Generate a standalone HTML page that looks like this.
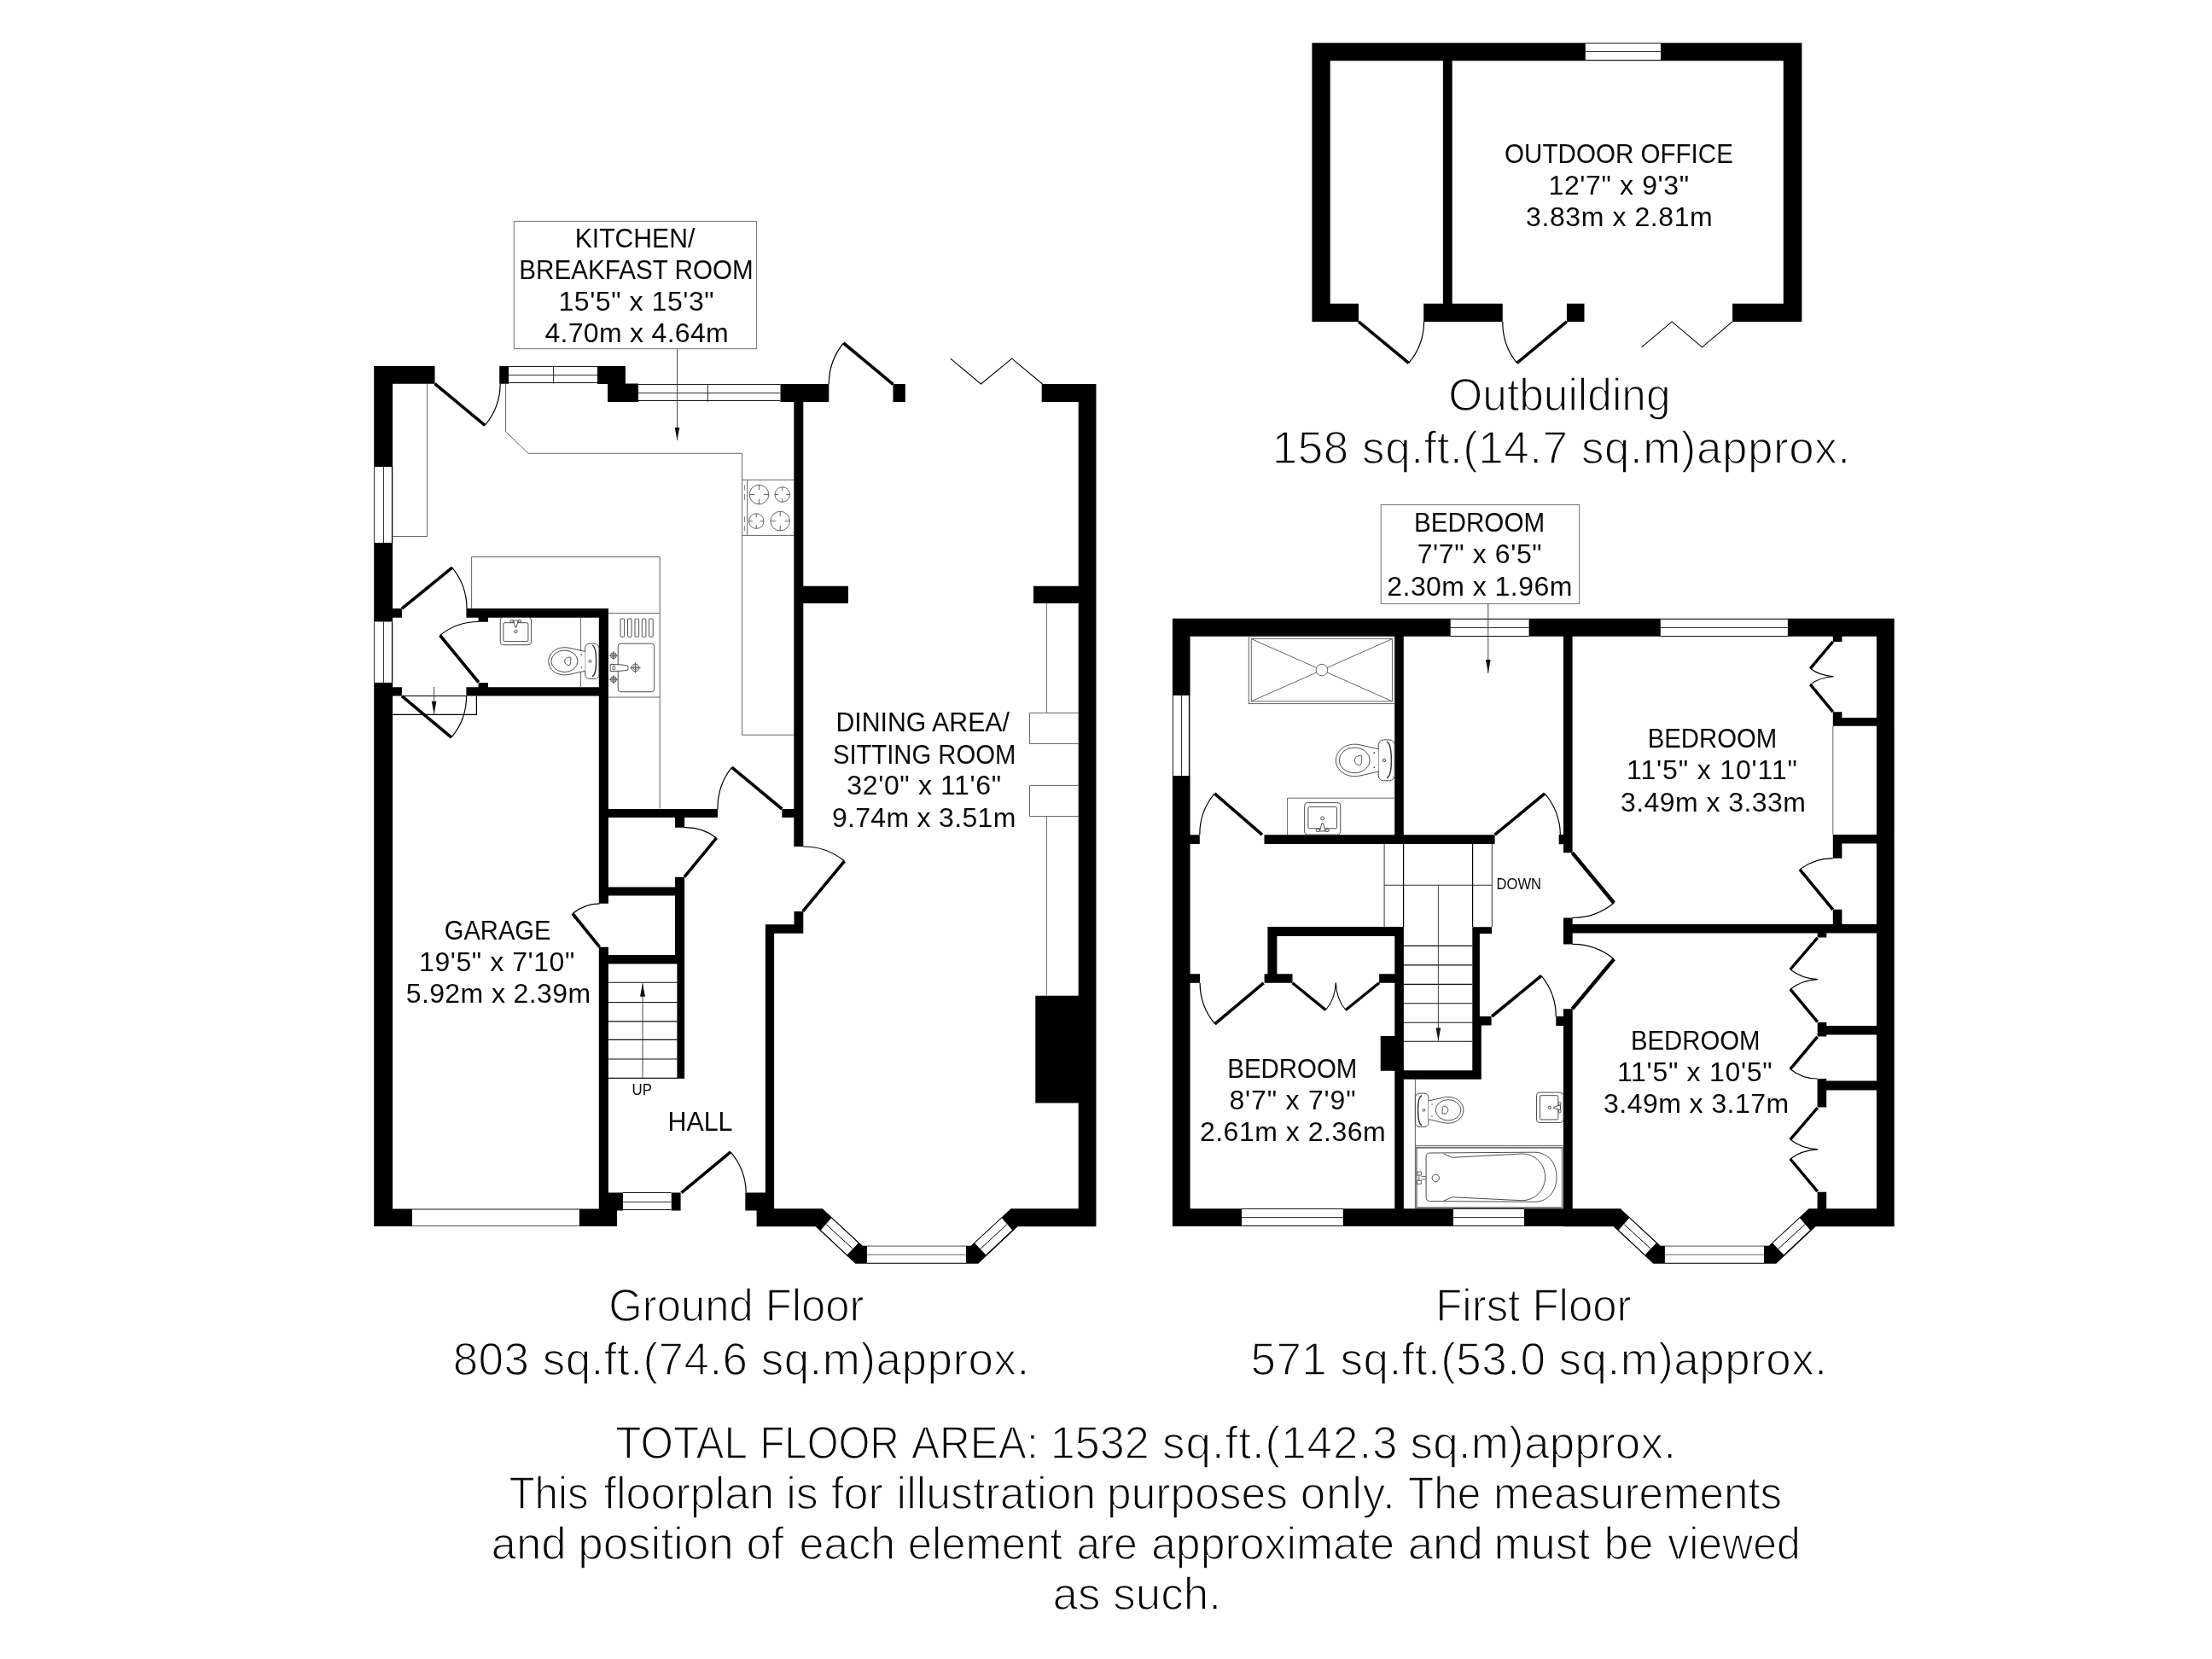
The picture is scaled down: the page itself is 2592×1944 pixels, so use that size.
<!DOCTYPE html>
<html><head><meta charset="utf-8"><title>Floorplan</title>
<style>
html,body{margin:0;padding:0;background:#fff;}
svg{display:block;}
text{font-family:"Liberation Sans",sans-serif;fill:#0a0a0a;}
text.b{fill:#0a0a0a;stroke:#fff;stroke-width:1.4px;paint-order:fill stroke;}
</style></head><body>
<svg width="2592" height="1944" viewBox="0 0 2592 1944">
<rect width="2592" height="1944" fill="#fff"/>
<path fill="#000" d="M438.20,429.00 L460.10,429.00 L460.10,1437.10 L438.20,1437.10Z M438.30,429.00 L509.50,429.00 L509.50,449.80 L438.30,449.80Z M585.20,429.00 L596.00,429.00 L596.00,449.80 L585.20,449.80Z M700.00,429.00 L732.90,429.00 L732.90,450.00 L700.00,450.00Z M712.00,449.50 L748.00,449.50 L748.00,470.90 L712.00,470.90Z M914.30,450.00 L971.30,450.00 L971.30,470.90 L914.30,470.90Z M1046.50,450.00 L1060.80,450.00 L1060.80,470.90 L1046.50,470.90Z M1220.70,450.00 L1284.50,450.00 L1284.50,470.90 L1220.70,470.90Z M1263.70,450.30 L1284.50,450.30 L1284.50,1437.10 L1263.70,1437.10Z M930.30,470.70 L941.30,470.70 L941.30,992.00 L930.30,992.00Z M930.50,1067.90 L941.30,1067.90 L941.30,1093.80 L930.50,1093.80Z M896.90,1083.20 L941.30,1083.20 L941.30,1093.80 L896.90,1093.80Z M896.90,1083.20 L907.10,1083.20 L907.10,1418.40 L896.90,1418.40Z M941.30,686.70 L994.00,686.70 L994.00,707.10 L941.30,707.10Z M1211.00,686.70 L1263.70,686.70 L1263.70,707.10 L1211.00,707.10Z M1213.30,1166.70 L1263.90,1166.70 L1263.90,1292.40 L1213.30,1292.40Z M459.60,713.10 L470.90,713.10 L470.90,723.70 L459.60,723.70Z M459.60,805.20 L470.90,805.20 L470.90,815.60 L459.60,815.60Z M546.40,712.90 L712.90,712.90 L712.90,723.70 L546.40,723.70Z M701.80,712.90 L712.90,712.90 L712.90,1058.80 L701.80,1058.80Z M701.80,1109.70 L712.90,1109.70 L712.90,1418.40 L701.80,1418.40Z M546.40,805.20 L702.10,805.20 L702.10,815.60 L546.40,815.60Z M560.60,723.40 L571.90,723.40 L571.90,728.80 L560.60,728.80Z M560.60,799.90 L571.90,799.90 L571.90,805.30 L560.60,805.30Z M702.10,948.00 L841.00,948.00 L841.00,958.00 L702.10,958.00Z M916.40,948.00 L930.50,948.00 L930.50,958.00 L916.40,958.00Z M791.00,958.00 L802.10,958.00 L802.10,969.70 L791.00,969.70Z M791.00,1027.70 L802.10,1027.70 L802.10,1129.60 L791.00,1129.60Z M793.40,1129.00 L802.10,1129.00 L802.10,1263.90 L793.40,1263.90Z M712.40,1039.40 L791.00,1039.40 L791.00,1049.40 L712.40,1049.40Z M712.40,1119.00 L791.00,1119.00 L791.00,1129.50 L712.40,1129.50Z M438.30,1416.50 L482.90,1416.50 L482.90,1437.10 L438.30,1437.10Z M678.90,1416.50 L723.00,1416.50 L723.00,1437.10 L678.90,1437.10Z M712.40,1397.60 L730.00,1397.60 L730.00,1418.40 L712.40,1418.40Z M786.50,1397.60 L797.60,1397.60 L797.60,1418.40 L786.50,1418.40Z M873.30,1397.60 L907.10,1397.60 L907.10,1418.40 L873.30,1418.40Z M886.60,1416.50 L964.00,1416.50 L964.00,1437.10 L886.60,1437.10Z M886.60,1416.20 L963.80,1416.20 L1010.80,1459.80 L1137.70,1459.80 L1184.50,1416.20 L1284.50,1416.20 L1284.50,1437.20 L1192.70,1437.20 L1146.30,1480.80 L1002.30,1480.80 L955.60,1437.20 L886.60,1437.20Z M1373.90,724.80 L2219.70,724.80 L2219.70,745.80 L1373.90,745.80Z M1373.90,724.80 L1394.60,724.80 L1394.60,1437.10 L1373.90,1437.10Z M2198.90,724.80 L2219.70,724.80 L2219.70,1437.00 L2198.90,1437.00Z M1373.90,1416.20 L1899.50,1416.20 L1899.50,1437.10 L1373.90,1437.10Z M1832.00,1416.20 L1898.80,1416.20 L1945.80,1459.80 L2072.70,1459.80 L2119.50,1416.20 L2219.50,1416.20 L2219.50,1437.20 L2127.70,1437.20 L2081.30,1480.80 L1937.30,1480.80 L1890.60,1437.20 L1832.00,1437.20Z M1634.20,745.80 L1644.80,745.80 L1644.80,988.90 L1634.20,988.90Z M1832.00,745.80 L1842.60,745.80 L1842.60,999.30 L1832.00,999.30Z M1826.70,978.00 L1832.20,978.00 L1832.20,989.20 L1826.70,989.20Z M1481.50,978.20 L1751.60,978.20 L1751.60,988.90 L1481.50,988.90Z M1394.60,978.20 L1405.80,978.20 L1405.80,988.90 L1394.60,988.90Z M1394.60,1141.20 L1406.10,1141.20 L1406.10,1151.80 L1394.60,1151.80Z M1485.40,1086.00 L1644.60,1086.00 L1644.60,1097.00 L1485.40,1097.00Z M1485.40,1086.00 L1496.40,1086.00 L1496.40,1151.80 L1485.40,1151.80Z M1481.60,1141.20 L1514.50,1141.20 L1514.50,1151.80 L1481.60,1151.80Z M1616.10,1141.20 L1635.20,1141.20 L1635.20,1151.80 L1616.10,1151.80Z M1634.30,1086.00 L1644.90,1086.00 L1644.90,1416.20 L1634.30,1416.20Z M1617.70,1213.90 L1635.20,1213.90 L1635.20,1254.70 L1617.70,1254.70Z M1644.60,1254.20 L1735.80,1254.20 L1735.80,1264.70 L1644.60,1264.70Z M1725.30,1086.20 L1733.90,1086.20 L1733.90,1192.00 L1725.30,1192.00Z M1725.30,1191.00 L1735.80,1191.00 L1735.80,1264.70 L1725.30,1264.70Z M1725.30,1086.20 L1748.10,1086.20 L1748.10,1094.00 L1725.30,1094.00Z M1733.90,1190.90 L1747.60,1190.90 L1747.60,1201.60 L1733.90,1201.60Z M1823.30,1191.00 L1832.70,1191.00 L1832.70,1202.00 L1823.30,1202.00Z M1832.00,1182.30 L1842.70,1182.30 L1842.70,1416.70 L1832.00,1416.70Z M1832.00,1075.40 L1842.70,1075.40 L1842.70,1106.40 L1832.00,1106.40Z M1832.20,1082.90 L2199.20,1082.90 L2199.20,1093.40 L1832.20,1093.40Z M2147.80,745.70 L2158.40,745.70 L2158.40,751.90 L2147.80,751.90Z M2147.80,834.20 L2158.40,834.20 L2158.40,850.80 L2147.80,850.80Z M2147.80,840.90 L2198.90,840.90 L2198.90,850.80 L2147.80,850.80Z M2147.80,978.10 L2198.90,978.10 L2198.90,988.50 L2147.80,988.50Z M2147.80,978.10 L2158.40,978.10 L2158.40,1005.80 L2147.80,1005.80Z M2147.80,1065.80 L2158.40,1065.80 L2158.40,1082.90 L2147.80,1082.90Z M2129.70,1093.40 L2140.30,1093.40 L2140.30,1098.50 L2129.70,1098.50Z M2129.70,1197.90 L2140.30,1197.90 L2140.30,1214.60 L2129.70,1214.60Z M2129.70,1201.90 L2199.20,1201.90 L2199.20,1212.50 L2129.70,1212.50Z M2129.60,1266.50 L2199.20,1266.50 L2199.20,1277.40 L2129.60,1277.40Z M2129.60,1264.00 L2140.20,1264.00 L2140.20,1297.40 L2129.60,1297.40Z M2129.60,1396.70 L2140.20,1396.70 L2140.20,1416.70 L2129.60,1416.70Z M1537.40,50.20 L2111.40,50.20 L2111.40,71.20 L1537.40,71.20Z M1537.40,50.20 L1558.70,50.20 L1558.70,376.90 L1537.40,376.90Z M2089.80,50.20 L2111.40,50.20 L2111.40,376.90 L2089.80,376.90Z M1690.90,71.20 L1701.70,71.20 L1701.70,356.00 L1690.90,356.00Z M1537.40,355.80 L1592.00,355.80 L1592.00,376.90 L1537.40,376.90Z M1668.20,355.80 L1760.80,355.80 L1760.80,376.90 L1668.20,376.90Z M1835.90,355.80 L1856.50,355.80 L1856.50,376.90 L1835.90,376.90Z M2030.10,355.80 L2111.40,355.80 L2111.40,376.90 L2030.10,376.90Z"/>
<rect x="596.0" y="429.0" width="104.0" height="20.5" fill="#fff"/>
<polyline points="596.0,429.5 700.0,429.5" fill="none" stroke="#222" stroke-width="1" />
<polyline points="596.0,439.5 700.0,439.5" fill="none" stroke="#333" stroke-width="1" />
<polyline points="596.0,448.5 700.0,448.5" fill="none" stroke="#111" stroke-width="1.1" />
<polyline points="648.6,429.0 648.6,449.5" fill="none" stroke="#222" stroke-width="1" />
<rect x="748.0" y="450.3" width="166.3" height="20.4" fill="#fff"/>
<polyline points="748.0,450.5 914.3,450.5" fill="none" stroke="#222" stroke-width="1" />
<polyline points="748.0,460.5 914.3,460.5" fill="none" stroke="#333" stroke-width="1" />
<polyline points="748.0,469.5 914.3,469.5" fill="none" stroke="#111" stroke-width="1.1" />
<polyline points="829.3,450.3 829.3,470.7" fill="none" stroke="#222" stroke-width="1" />
<rect x="438.2" y="547.0" width="21.9" height="89.0" fill="#fff"/>
<polyline points="438.5,547.0 438.5,636.0" fill="none" stroke="#333" stroke-width="1" />
<polyline points="449.5,547.0 449.5,636.0" fill="none" stroke="#333" stroke-width="1" />
<polyline points="459.5,547.0 459.5,636.0" fill="none" stroke="#000" stroke-width="1.2" />
<rect x="438.2" y="728.5" width="21.9" height="71.4" fill="#fff"/>
<polyline points="438.5,728.5 438.5,799.9" fill="none" stroke="#333" stroke-width="1" />
<polyline points="449.5,728.5 449.5,799.9" fill="none" stroke="#333" stroke-width="1" />
<polyline points="459.5,728.5 459.5,799.9" fill="none" stroke="#000" stroke-width="1.2" />
<polyline points="482.9,1417.0 678.9,1417.0" fill="none" stroke="#111" stroke-width="1.2" />
<polyline points="482.9,1436.5 678.9,1436.5" fill="none" stroke="#555" stroke-width="1.1" />
<rect x="730.0" y="1397.6" width="56.5" height="20.8" fill="#fff"/>
<polyline points="730.0,1397.5 786.5,1397.5" fill="none" stroke="#222" stroke-width="1" />
<polyline points="730.0,1408.5 786.5,1408.5" fill="none" stroke="#333" stroke-width="1" />
<polyline points="730.0,1417.5 786.5,1417.5" fill="none" stroke="#111" stroke-width="1.1" />
<rect x="1015.9" y="1459.8" width="116.1" height="21.0" fill="#fff"/>
<polyline points="1015.9,1460.3 1132.0,1460.3" fill="none" stroke="#777" stroke-width="1.1" />
<polyline points="1015.9,1470.2 1132.0,1470.2" fill="none" stroke="#666" stroke-width="1.1" />
<polyline points="1015.9,1480.3 1132.0,1480.3" fill="none" stroke="#000" stroke-width="1.1" />
<polygon points="974.4,1427.1 961.7,1441.5 992.5,1470.6 1005.9,1456.4" fill="#fff" stroke="none" stroke-width="0"/>
<polyline points="974.4,1427.1 1005.9,1456.4" fill="none" stroke="#000" stroke-width="1.0" />
<polyline points="961.7,1441.5 992.5,1470.6" fill="none" stroke="#000" stroke-width="1.0" />
<polyline points="968.3,1434.8 999.2,1463.2" fill="none" stroke="#000" stroke-width="1.0" />
<polygon points="1173.7,1427.1 1186.3,1441.5 1155.4,1470.6 1142.0,1456.4" fill="#fff" stroke="none" stroke-width="0"/>
<polyline points="1173.7,1427.1 1142.0,1456.4" fill="none" stroke="#000" stroke-width="1.0" />
<polyline points="1186.3,1441.5 1155.4,1470.6" fill="none" stroke="#000" stroke-width="1.0" />
<polyline points="1179.9,1434.8 1149.0,1463.2" fill="none" stroke="#000" stroke-width="1.0" />
<path d="M568.2,498.4 A76.3,76.3 0 0 0 586.2,449.7" fill="none" stroke="#000" stroke-width="1.2"/>
<line x1="509.5" y1="449.7" x2="568.2" y2="498.4" stroke="#000" stroke-width="3.6" stroke-linecap="butt"/>
<path d="M988.4,402.0 A75.6,75.6 0 0 0 971.3,450.3" fill="none" stroke="#000" stroke-width="1.2"/>
<line x1="1046.5" y1="450.3" x2="988.4" y2="402.0" stroke="#000" stroke-width="3.6" stroke-linecap="butt"/>
<polyline points="1113.7,420.2 1149.5,450.0 1185.7,420.2 1221.5,450.0" fill="none" stroke="#000" stroke-width="1.1" />
<path d="M529.9,665.2 A76.0,76.0 0 0 1 547.0,713.1" fill="none" stroke="#000" stroke-width="1.2"/>
<line x1="470.9" y1="713.1" x2="529.9" y2="665.2" stroke="#000" stroke-width="3.6" stroke-linecap="butt"/>
<path d="M515.6,744.5 A71.2,71.2 0 0 1 560.8,728.5" fill="none" stroke="#000" stroke-width="1.2"/>
<line x1="560.8" y1="799.5" x2="515.6" y2="744.5" stroke="#000" stroke-width="3.6" stroke-linecap="butt"/>
<path d="M529.0,864.2 A75.7,75.7 0 0 0 546.6,815.6" fill="none" stroke="#000" stroke-width="1.2"/>
<line x1="470.9" y1="815.6" x2="529.0" y2="864.2" stroke="#000" stroke-width="3.6" stroke-linecap="butt"/>
<path d="M857.5,899.2 A76.5,76.5 0 0 0 841.0,948.0" fill="none" stroke="#000" stroke-width="1.2"/>
<line x1="916.4" y1="948.0" x2="857.5" y2="899.2" stroke="#000" stroke-width="3.6" stroke-linecap="butt"/>
<path d="M839.6,981.9 A59.3,59.3 0 0 0 801.9,969.7" fill="none" stroke="#000" stroke-width="1.2"/>
<line x1="801.9" y1="1027.7" x2="839.6" y2="981.9" stroke="#000" stroke-width="3.6" stroke-linecap="butt"/>
<path d="M989.6,1009.0 A76.5,76.5 0 0 0 940.8,992.0" fill="none" stroke="#000" stroke-width="1.2"/>
<line x1="940.8" y1="1067.9" x2="989.6" y2="1009.0" stroke="#000" stroke-width="3.6" stroke-linecap="butt"/>
<path d="M670.9,1070.5 A50.4,50.4 0 0 1 702.6,1058.8" fill="none" stroke="#000" stroke-width="1.2"/>
<line x1="702.6" y1="1109.7" x2="670.9" y2="1070.5" stroke="#000" stroke-width="3.6" stroke-linecap="butt"/>
<path d="M856.1,1349.9 A74.8,74.8 0 0 1 874.2,1397.6" fill="none" stroke="#000" stroke-width="1.2"/>
<line x1="798.5" y1="1397.6" x2="856.1" y2="1349.9" stroke="#000" stroke-width="3.6" stroke-linecap="butt"/>
<polyline points="460.0,837.4 558.4,837.4 558.4,815.6" fill="none" stroke="#000" stroke-width="1.2" />
<polyline points="470.9,815.5 546.4,815.5" fill="none" stroke="#000" stroke-width="1.1" />
<polyline points="508.6,804.9 508.6,836.8" fill="none" stroke="#333" stroke-width="0.9" />
<polygon points="508.6,836.8 505.8,821.8 511.4,821.8" fill="#111" stroke="none" stroke-width="0"/>
<polyline points="500.6,449.5 500.6,628.5 459.6,628.5" fill="none" stroke="#555" stroke-width="0.9" />
<polyline points="592.6,449.5 592.6,505.8 619.0,531.3 869.6,531.3 869.6,861.2 930.3,861.2" fill="none" stroke="#555" stroke-width="0.9" />
<polyline points="930.3,562.3 869.5,562.3" fill="none" stroke="#555" stroke-width="0.9" />
<polyline points="869.5,627.4 930.3,627.4" fill="none" stroke="#555" stroke-width="0.9" />
<polyline points="875.7,562.6 875.7,627.3" fill="none" stroke="#555" stroke-width="0.9" />
<polyline points="552.6,713.1 552.6,652.6 773.2,652.6 773.2,947.5" fill="none" stroke="#555" stroke-width="0.9" />
<polyline points="712.4,718.5 773.2,718.5" fill="none" stroke="#555" stroke-width="0.9" />
<polyline points="712.4,817.0 773.2,817.0" fill="none" stroke="#555" stroke-width="0.9" />
<polyline points="680.4,723.4 680.4,805.3" fill="none" stroke="#555" stroke-width="0.9" />
<circle cx="889.5" cy="579.5" r="11.3" fill="none" stroke="#555" stroke-width="0.9"/>
<polyline points="878.2,579.5 884.2,579.5" fill="none" stroke="#555" stroke-width="0.9" />
<polyline points="894.8,579.5 900.8,579.5" fill="none" stroke="#555" stroke-width="0.9" />
<polyline points="889.5,568.2 889.5,574.2" fill="none" stroke="#555" stroke-width="0.9" />
<polyline points="889.5,584.8 889.5,590.8" fill="none" stroke="#555" stroke-width="0.9" />
<circle cx="916.8" cy="579.5" r="8.8" fill="none" stroke="#555" stroke-width="0.9"/>
<polyline points="908.0,579.5 912.3,579.5" fill="none" stroke="#555" stroke-width="0.9" />
<polyline points="921.3,579.5 925.6,579.5" fill="none" stroke="#555" stroke-width="0.9" />
<polyline points="916.8,570.7 916.8,575.0" fill="none" stroke="#555" stroke-width="0.9" />
<polyline points="916.8,584.0 916.8,588.3" fill="none" stroke="#555" stroke-width="0.9" />
<circle cx="886.3" cy="610.6" r="8.8" fill="none" stroke="#555" stroke-width="0.9"/>
<polyline points="877.5,610.6 881.8,610.6" fill="none" stroke="#555" stroke-width="0.9" />
<polyline points="890.8,610.6 895.1,610.6" fill="none" stroke="#555" stroke-width="0.9" />
<polyline points="886.3,601.8 886.3,606.1" fill="none" stroke="#555" stroke-width="0.9" />
<polyline points="886.3,615.1 886.3,619.4" fill="none" stroke="#555" stroke-width="0.9" />
<circle cx="914.2" cy="610.6" r="11.3" fill="none" stroke="#555" stroke-width="0.9"/>
<polyline points="902.9,610.6 908.9,610.6" fill="none" stroke="#555" stroke-width="0.9" />
<polyline points="919.5,610.6 925.5,610.6" fill="none" stroke="#555" stroke-width="0.9" />
<polyline points="914.2,599.3 914.2,605.3" fill="none" stroke="#555" stroke-width="0.9" />
<polyline points="914.2,615.9 914.2,621.9" fill="none" stroke="#555" stroke-width="0.9" />
<polyline points="872.4,568.5 872.4,574.5" fill="none" stroke="#555" stroke-width="0.8" />
<polyline points="872.4,579.1 872.4,585.8" fill="none" stroke="#555" stroke-width="0.8" />
<polyline points="872.4,605.3 872.4,612.0" fill="none" stroke="#555" stroke-width="0.8" />
<polyline points="872.4,616.3 872.4,622.2" fill="none" stroke="#555" stroke-width="0.8" />
<polyline points="1226.4,707.1 1226.4,835.4" fill="none" stroke="#555" stroke-width="0.9" />
<polyline points="1226.4,956.5 1226.4,1166.7" fill="none" stroke="#555" stroke-width="0.9" />
<polyline points="1263.8,835.4 1206.5,835.4 1206.5,871.5 1263.8,871.5" fill="none" stroke="#555" stroke-width="0.9" />
<polyline points="1263.8,920.4 1206.5,920.4 1206.5,956.5 1263.8,956.5" fill="none" stroke="#555" stroke-width="0.9" />
<polyline points="712.4,1151.2 793.6,1151.2" fill="none" stroke="#111" stroke-width="1.15" />
<polyline points="712.4,1174.5 793.6,1174.5" fill="none" stroke="#111" stroke-width="1.15" />
<polyline points="712.4,1196.8 793.6,1196.8" fill="none" stroke="#111" stroke-width="1.15" />
<polyline points="712.4,1218.4 793.6,1218.4" fill="none" stroke="#111" stroke-width="1.15" />
<polyline points="712.4,1241.0 793.6,1241.0" fill="none" stroke="#111" stroke-width="1.15" />
<polyline points="712.4,1263.4 802.1,1263.4" fill="none" stroke="#111" stroke-width="1.15" />
<polyline points="753.0,1263.4 753.0,1152.2" fill="none" stroke="#333" stroke-width="0.9" />
<polygon points="753.0,1152.2 750.0,1167.7 756.0,1167.7" fill="#111" stroke="none" stroke-width="0"/>
<rect x="602.3" y="259.3" width="284.1" height="149.4" rx="0" fill="none" stroke="#666" stroke-width="0.9"/>
<polyline points="793.5,408.8 793.5,515.9" fill="none" stroke="#333" stroke-width="0.9" />
<polygon points="793.5,515.9 790.7,500.9 796.3,500.9" fill="#111" stroke="none" stroke-width="0"/>
<rect x="1699.7" y="724.8" width="91.9" height="21.0" fill="#fff"/>
<polyline points="1699.7,725.5 1791.6,725.5" fill="none" stroke="#222" stroke-width="1" />
<polyline points="1699.7,735.5 1791.6,735.5" fill="none" stroke="#333" stroke-width="1" />
<polyline points="1699.7,745.5 1791.6,745.5" fill="none" stroke="#111" stroke-width="1.1" />
<rect x="1945.8" y="724.8" width="149.1" height="21.0" fill="#fff"/>
<polyline points="1945.8,725.5 2094.9,725.5" fill="none" stroke="#222" stroke-width="1" />
<polyline points="1945.8,735.5 2094.9,735.5" fill="none" stroke="#333" stroke-width="1" />
<polyline points="1945.8,745.5 2094.9,745.5" fill="none" stroke="#111" stroke-width="1.1" />
<rect x="1373.9" y="814.9" width="20.7" height="94.2" fill="#fff"/>
<polyline points="1374.5,814.9 1374.5,909.1" fill="none" stroke="#333" stroke-width="1" />
<polyline points="1384.5,814.9 1384.5,909.1" fill="none" stroke="#333" stroke-width="1" />
<polyline points="1393.5,814.9 1393.5,909.1" fill="none" stroke="#000" stroke-width="1.2" />
<rect x="1455.0" y="1416.2" width="118.8" height="20.9" fill="#fff"/>
<polyline points="1455.0,1416.5 1573.8,1416.5" fill="none" stroke="#222" stroke-width="1" />
<polyline points="1455.0,1426.5 1573.8,1426.5" fill="none" stroke="#333" stroke-width="1" />
<polyline points="1455.0,1436.5 1573.8,1436.5" fill="none" stroke="#111" stroke-width="1.1" />
<rect x="1703.0" y="1416.2" width="83.0" height="20.9" fill="#fff"/>
<polyline points="1703.0,1416.5 1786.0,1416.5" fill="none" stroke="#222" stroke-width="1" />
<polyline points="1703.0,1426.5 1786.0,1426.5" fill="none" stroke="#333" stroke-width="1" />
<polyline points="1703.0,1436.5 1786.0,1436.5" fill="none" stroke="#111" stroke-width="1.1" />
<rect x="1950.9" y="1459.8" width="116.1" height="21.0" fill="#fff"/>
<polyline points="1950.9,1460.3 2067.0,1460.3" fill="none" stroke="#777" stroke-width="1.1" />
<polyline points="1950.9,1470.2 2067.0,1470.2" fill="none" stroke="#666" stroke-width="1.1" />
<polyline points="1950.9,1480.3 2067.0,1480.3" fill="none" stroke="#000" stroke-width="1.1" />
<polygon points="1909.4,1427.1 1896.7,1441.5 1927.5,1470.6 1940.9,1456.4" fill="#fff" stroke="none" stroke-width="0"/>
<polyline points="1909.4,1427.1 1940.9,1456.4" fill="none" stroke="#000" stroke-width="1.0" />
<polyline points="1896.7,1441.5 1927.5,1470.6" fill="none" stroke="#000" stroke-width="1.0" />
<polyline points="1903.3,1434.8 1934.2,1463.2" fill="none" stroke="#000" stroke-width="1.0" />
<polygon points="2108.7,1427.1 2121.3,1441.5 2090.4,1470.6 2077.0,1456.4" fill="#fff" stroke="none" stroke-width="0"/>
<polyline points="2108.7,1427.1 2077.0,1456.4" fill="none" stroke="#000" stroke-width="1.0" />
<polyline points="2121.3,1441.5 2090.4,1470.6" fill="none" stroke="#000" stroke-width="1.0" />
<polyline points="2114.9,1434.8 2084.0,1463.2" fill="none" stroke="#000" stroke-width="1.0" />
<polyline points="2147.8,850.8 2147.8,978.1" fill="none" stroke="#555" stroke-width="0.9" />
<path d="M1423.3,929.9 A73.7,73.7 0 0 0 1405.8,978.2" fill="none" stroke="#000" stroke-width="1.2"/>
<line x1="1479.0" y1="978.2" x2="1423.3" y2="929.9" stroke="#000" stroke-width="3.6" stroke-linecap="butt"/>
<path d="M1810.1,929.9 A75.9,75.9 0 0 1 1828.4,978.2" fill="none" stroke="#000" stroke-width="1.2"/>
<line x1="1751.6" y1="978.2" x2="1810.1" y2="929.9" stroke="#000" stroke-width="3.6" stroke-linecap="butt"/>
<path d="M1423.6,1199.8 A74.6,74.6 0 0 1 1406.1,1151.8" fill="none" stroke="#000" stroke-width="1.2"/>
<line x1="1480.7" y1="1151.8" x2="1423.6" y2="1199.8" stroke="#000" stroke-width="3.6" stroke-linecap="butt"/>
<path d="M1891.2,1058.0 A76.5,76.5 0 0 1 1842.3,1075.5" fill="none" stroke="#000" stroke-width="1.2"/>
<line x1="1842.3" y1="999.2" x2="1891.2" y2="1058.0" stroke="#000" stroke-width="4.4" stroke-linecap="butt"/>
<path d="M1891.2,1123.8 A76.2,76.2 0 0 0 1842.3,1106.4" fill="none" stroke="#000" stroke-width="1.2"/>
<line x1="1842.3" y1="1182.3" x2="1891.2" y2="1123.8" stroke="#000" stroke-width="4.4" stroke-linecap="butt"/>
<path d="M1806.1,1143.4 A75.0,75.0 0 0 1 1823.3,1191.0" fill="none" stroke="#000" stroke-width="1.2"/>
<line x1="1748.1" y1="1191.0" x2="1806.1" y2="1143.4" stroke="#000" stroke-width="3.6" stroke-linecap="butt"/>
<path d="M2109.0,1018.9 A60.9,60.9 0 0 1 2147.8,1005.8" fill="none" stroke="#000" stroke-width="1.2"/>
<line x1="2147.8" y1="1065.8" x2="2109.0" y2="1018.9" stroke="#000" stroke-width="3.6" stroke-linecap="butt"/>
<path d="M2097.8,1252.8 A49.6,49.6 0 0 0 2129.6,1264.0" fill="none" stroke="#000" stroke-width="1.2"/>
<line x1="2129.6" y1="1214.8" x2="2097.8" y2="1252.8" stroke="#000" stroke-width="3.6" stroke-linecap="butt"/>
<polyline points="2147.8,751.9 2121.3,783.3" fill="none" stroke="#000" stroke-width="3.4" />
<polyline points="2147.8,834.2 2121.3,802.1" fill="none" stroke="#000" stroke-width="3.4" />
<path d="M2121.3,783.3 Q2131.9,791.7 2148.5,792.7 Q2131.9,793.7 2121.3,802.1" fill="none" stroke="#000" stroke-width="1.1"/>
<polyline points="2129.7,1098.8 2097.8,1136.0" fill="none" stroke="#000" stroke-width="3.4" />
<polyline points="2129.7,1197.4 2097.8,1159.2" fill="none" stroke="#000" stroke-width="3.4" />
<path d="M2097.8,1136.0 Q2111.0,1146.6 2130.2,1147.6 Q2111.0,1148.6 2097.8,1159.2" fill="none" stroke="#000" stroke-width="1.1"/>
<polyline points="2129.7,1298.2 2097.8,1335.3" fill="none" stroke="#000" stroke-width="3.4" />
<polyline points="2129.7,1396.2 2097.8,1358.0" fill="none" stroke="#000" stroke-width="3.4" />
<path d="M2097.8,1335.3 Q2111.0,1345.9 2130.2,1346.9 Q2111.0,1347.9 2097.8,1358.0" fill="none" stroke="#000" stroke-width="1.1"/>
<polyline points="1514.5,1151.8 1553.4,1183.5" fill="none" stroke="#000" stroke-width="3.4" />
<polyline points="1616.1,1151.8 1576.9,1183.5" fill="none" stroke="#000" stroke-width="3.4" />
<path d="M1553.4,1183.5 Q1564.5,1171 1565.3,1151.2 Q1566,1171 1576.9,1183.5" fill="none" stroke="#000" stroke-width="1.1"/>
<polyline points="1622.1,988.9 1622.1,1086.0" fill="none" stroke="#555" stroke-width="1.2" />
<polyline points="1644.6,988.9 1644.6,1086.0" fill="none" stroke="#000" stroke-width="1.2" />
<polyline points="1725.6,988.9 1725.6,1086.0" fill="none" stroke="#000" stroke-width="1.2" />
<polyline points="1748.4,988.9 1748.4,1086.0" fill="none" stroke="#555" stroke-width="1.2" />
<polyline points="1622.1,1037.2 1748.4,1037.2" fill="none" stroke="#333" stroke-width="1.1" />
<polyline points="1644.6,1108.3 1725.2,1108.3" fill="none" stroke="#111" stroke-width="1.15" />
<polyline points="1644.6,1130.8 1725.2,1130.8" fill="none" stroke="#111" stroke-width="1.15" />
<polyline points="1644.6,1153.4 1725.2,1153.4" fill="none" stroke="#111" stroke-width="1.15" />
<polyline points="1644.6,1175.7 1725.2,1175.7" fill="none" stroke="#111" stroke-width="1.15" />
<polyline points="1644.6,1198.2 1725.2,1198.2" fill="none" stroke="#111" stroke-width="1.15" />
<polyline points="1644.6,1220.2 1725.2,1220.2" fill="none" stroke="#111" stroke-width="1.15" />
<polyline points="1685.4,1037.4 1685.4,1219.6" fill="none" stroke="#333" stroke-width="0.9" />
<polygon points="1685.4,1219.6 1682.6,1204.6 1688.2,1204.6" fill="#111" stroke="none" stroke-width="0"/>
<rect x="1463.3" y="745.8" width="170.9" height="78.8" rx="0" fill="none" stroke="#555" stroke-width="0.9"/>
<rect x="1466.3" y="748.6" width="165.1" height="73.2" rx="0" fill="none" stroke="#555" stroke-width="0.9"/>
<polyline points="1466.3,748.6 1631.4,821.8" fill="none" stroke="#555" stroke-width="0.9" />
<polyline points="1466.3,821.8 1631.4,748.6" fill="none" stroke="#555" stroke-width="0.9" />
<circle cx="1548.9" cy="785.1" r="6.8" fill="#fff" stroke="#555" stroke-width="0.9"/>
<polyline points="1508.6,978.2 1508.6,935.2 1634.2,935.2" fill="none" stroke="#555" stroke-width="0.9" />
<polyline points="1658.4,1264.7 1658.4,1416.2" fill="none" stroke="#555" stroke-width="0.9" />
<rect x="1659.2" y="1344.4" width="172.0" height="71.0" rx="0" fill="none" stroke="#555" stroke-width="0.9"/>
<rect x="1660.3" y="1345.5" width="169.8" height="68.8" rx="0" fill="none" stroke="#555" stroke-width="0.6"/>
<g transform="translate(701.9,774.8) rotate(0) scale(0.86)" fill="none" stroke="#3a3a3a" stroke-width="1.05"><rect x="-18.9" y="-23.95" width="18.9" height="47.9" rx="6" ry="6" fill="#fff"/><path d="M-18.9,-13.2 L-41.5,-18.3 C-57,-21 -68.8,-11.5 -68.8,0 C-68.8,11.5 -57,21 -41.5,18.3 L-18.9,13.2" fill="#fff"/><ellipse cx="-47" cy="0" rx="18" ry="14.8"/><path d="M-38.6,-5.2 C-41,-5.8 -46.8,-5 -46.8,0 C-46.8,4 -43,6 -40.5,5.6 C-38.6,5.3 -38.3,-2 -38.6,-5.2Z"/><circle cx="-12.2" cy="0" r="1.7"/><circle cx="-23.9" cy="-8.7" r="0.9" fill="#3a3a3a" stroke="none"/><circle cx="-23.9" cy="8.4" r="0.9" fill="#3a3a3a" stroke="none"/><path d="M-9.3,-21.7 C-3.5,-20 -4,-5 -3.8,0 C-4,5 -3.5,19 -9.3,20.7" stroke-width="1.74"/></g>
<g transform="translate(604.4,723.4) rotate(0) scale(1.0)" fill="none" stroke="#3a3a3a" stroke-width="0.90"><rect x="-18.15" y="0" width="36.3" height="32.3" rx="3.5" fill="#fff"/><rect x="-14.5" y="6.3" width="29" height="21.9" rx="1.5"/><circle cx="0" cy="16.6" r="1.7"/><ellipse cx="-4.6" cy="4.4" rx="1.9" ry="1.4" fill="#fff"/><ellipse cx="4.6" cy="4.4" rx="1.9" ry="1.4" fill="#fff"/><path d="M-2.9,3.6 L2.9,3.6 L0.6,11.6 L-0.6,11.6 Z" fill="#fff"/></g>
<g transform="translate(1634.2,890.9) rotate(0) scale(1.0)" fill="none" stroke="#3a3a3a" stroke-width="0.90"><rect x="-18.9" y="-23.95" width="18.9" height="47.9" rx="6" ry="6" fill="#fff"/><path d="M-18.9,-13.2 L-41.5,-18.3 C-57,-21 -68.8,-11.5 -68.8,0 C-68.8,11.5 -57,21 -41.5,18.3 L-18.9,13.2" fill="#fff"/><ellipse cx="-47" cy="0" rx="18" ry="14.8"/><path d="M-38.6,-5.2 C-41,-5.8 -46.8,-5 -46.8,0 C-46.8,4 -43,6 -40.5,5.6 C-38.6,5.3 -38.3,-2 -38.6,-5.2Z"/><circle cx="-12.2" cy="0" r="1.7"/><circle cx="-23.9" cy="-8.7" r="0.9" fill="#3a3a3a" stroke="none"/><circle cx="-23.9" cy="8.4" r="0.9" fill="#3a3a3a" stroke="none"/><path d="M-9.3,-21.7 C-3.5,-20 -4,-5 -3.8,0 C-4,5 -3.5,19 -9.3,20.7" stroke-width="1.50"/></g>
<g transform="translate(1549.7,978.1) rotate(180) scale(1.16)" fill="none" stroke="#3a3a3a" stroke-width="0.78"><rect x="-18.15" y="0" width="36.3" height="32.3" rx="3.5" fill="#fff"/><rect x="-14.5" y="6.3" width="29" height="21.9" rx="1.5"/><circle cx="0" cy="16.6" r="1.7"/><ellipse cx="-4.6" cy="4.4" rx="1.9" ry="1.4" fill="#fff"/><ellipse cx="4.6" cy="4.4" rx="1.9" ry="1.4" fill="#fff"/><path d="M-2.9,3.6 L2.9,3.6 L0.6,11.6 L-0.6,11.6 Z" fill="#fff"/></g>
<g transform="translate(1658.4,1300.8) rotate(180) scale(0.822)" fill="none" stroke="#3a3a3a" stroke-width="1.09"><rect x="-18.9" y="-23.95" width="18.9" height="47.9" rx="6" ry="6" fill="#fff"/><path d="M-18.9,-13.2 L-41.5,-18.3 C-57,-21 -68.8,-11.5 -68.8,0 C-68.8,11.5 -57,21 -41.5,18.3 L-18.9,13.2" fill="#fff"/><ellipse cx="-47" cy="0" rx="18" ry="14.8"/><path d="M-38.6,-5.2 C-41,-5.8 -46.8,-5 -46.8,0 C-46.8,4 -43,6 -40.5,5.6 C-38.6,5.3 -38.3,-2 -38.6,-5.2Z"/><circle cx="-12.2" cy="0" r="1.7"/><circle cx="-23.9" cy="-8.7" r="0.9" fill="#3a3a3a" stroke="none"/><circle cx="-23.9" cy="8.4" r="0.9" fill="#3a3a3a" stroke="none"/><path d="M-9.3,-21.7 C-3.5,-20 -4,-5 -3.8,0 C-4,5 -3.5,19 -9.3,20.7" stroke-width="1.82"/></g>
<g transform="translate(1832.0,1297.8) rotate(90) scale(0.975)" fill="none" stroke="#3a3a3a" stroke-width="0.92"><rect x="-18.15" y="0" width="36.3" height="32.3" rx="3.5" fill="#fff"/><rect x="-14.5" y="6.3" width="29" height="21.9" rx="1.5"/><circle cx="0" cy="16.6" r="1.7"/><ellipse cx="-4.6" cy="4.4" rx="1.9" ry="1.4" fill="#fff"/><ellipse cx="4.6" cy="4.4" rx="1.9" ry="1.4" fill="#fff"/><path d="M-2.9,3.6 L2.9,3.6 L0.6,11.6 L-0.6,11.6 Z" fill="#fff"/></g>
<rect x="727.0" y="725.1" width="4.6" height="21.2" rx="0.8" fill="none" stroke="#3a3a3a" stroke-width="0.9"/>
<rect x="735.5" y="725.1" width="4.6" height="21.2" rx="0.8" fill="none" stroke="#3a3a3a" stroke-width="0.9"/>
<rect x="744.0" y="725.1" width="4.6" height="21.2" rx="0.8" fill="none" stroke="#3a3a3a" stroke-width="0.9"/>
<rect x="752.3" y="725.1" width="4.6" height="21.2" rx="0.8" fill="none" stroke="#3a3a3a" stroke-width="0.9"/>
<rect x="760.6" y="725.1" width="4.6" height="21.2" rx="0.8" fill="none" stroke="#3a3a3a" stroke-width="0.9"/>
<rect x="724.2" y="754.1" width="42.5" height="56.6" rx="3.5" fill="none" stroke="#3a3a3a" stroke-width="0.9"/>
<circle cx="718.9" cy="768.2" r="3.4" fill="#fff" stroke="#3a3a3a" stroke-width="0.9"/>
<circle cx="718.9" cy="768.2" r="1.9" fill="none" stroke="#3a3a3a" stroke-width="0.7"/>
<polyline points="713.7,768.2 724.1,768.2" fill="none" stroke="#3a3a3a" stroke-width="0.7" />
<polyline points="718.9,763.0 718.9,773.4" fill="none" stroke="#3a3a3a" stroke-width="0.7" />
<circle cx="718.9" cy="796.2" r="3.4" fill="#fff" stroke="#3a3a3a" stroke-width="0.9"/>
<circle cx="718.9" cy="796.2" r="1.9" fill="none" stroke="#3a3a3a" stroke-width="0.7"/>
<polyline points="713.7,796.2 724.1,796.2" fill="none" stroke="#3a3a3a" stroke-width="0.7" />
<polyline points="718.9,791.0 718.9,801.4" fill="none" stroke="#3a3a3a" stroke-width="0.7" />
<circle cx="744.5" cy="782.4" r="4.4" fill="#fff" stroke="#3a3a3a" stroke-width="0.9"/>
<circle cx="744.5" cy="782.4" r="2.4" fill="none" stroke="#3a3a3a" stroke-width="0.7"/>
<polyline points="738.3,782.4 750.7,782.4" fill="none" stroke="#3a3a3a" stroke-width="0.7" />
<polyline points="744.5,776.2 744.5,788.6" fill="none" stroke="#3a3a3a" stroke-width="0.7" />
<path d="M715.2,778.4 L728,778.9 L735.5,780 Q736.8,782.5 735.5,785.2 L728,786.2 L715.2,786.6 Z" fill="#fff" stroke="#3a3a3a" stroke-width="0.9"/>
<path d="M718,780.3 L720.6,780.3 L720.6,784.6 L718,784.6 Z" fill="none" stroke="#3a3a3a" stroke-width="0.7"/>
<polyline points="1658.4,1342.6 1832.2,1342.6" fill="none" stroke="#555" stroke-width="0.9" />
<path d="M1675.6,1351 L1798,1350.2 C1815,1350.2 1824,1364 1824,1379.3 C1824,1394.5 1815,1408.3 1798,1408.3 L1675.6,1407.5 Q1671.1,1407.5 1671.1,1403 L1671.1,1355.5 Q1671.1,1351 1675.6,1351 Z" fill="none" stroke="#3a3a3a" stroke-width="0.9"/>
<path d="M1691.5,1352 L1701.7,1356.3 L1783,1352 C1800,1352 1810.6,1365 1810.6,1379.4 C1810.6,1393.5 1800,1406.7 1783,1406.7 L1701.7,1402.8 L1691.5,1407.2" fill="none" stroke="#3a3a3a" stroke-width="0.9"/>
<circle cx="1682.3" cy="1380.4" r="4.2" fill="none" stroke="#3a3a3a" stroke-width="0.9"/>
<path d="M1660.4,1373.2 h5 v3.8 h-5 Z M1660.4,1383.4 h5 v3.9 h-5 Z M1662.9,1377 v6.4 M1665.4,1378.4 h5.7 M1665.4,1381.9 h5.7" fill="none" stroke="#3a3a3a" stroke-width="0.8"/>
<rect x="1618.2" y="591.5" width="232.5" height="115.9" rx="0" fill="none" stroke="#666" stroke-width="0.9"/>
<polyline points="1743.8,707.3 1743.8,788.9" fill="none" stroke="#333" stroke-width="0.9" />
<polygon points="1743.8,788.9 1741.0,772.9 1746.6,772.9" fill="#111" stroke="none" stroke-width="0"/>
<rect x="1857.8" y="50.2" width="88.2" height="21.0" fill="#fff"/>
<polyline points="1857.8,50.5 1946.0,50.5" fill="none" stroke="#222" stroke-width="1" />
<polyline points="1857.8,60.5 1946.0,60.5" fill="none" stroke="#333" stroke-width="1" />
<polyline points="1857.8,70.5 1946.0,70.5" fill="none" stroke="#111" stroke-width="1.1" />
<path d="M1650.7,425.4 A76.1,76.1 0 0 0 1668.6,376.9" fill="none" stroke="#000" stroke-width="1.2"/>
<line x1="1592.0" y1="376.9" x2="1650.7" y2="425.4" stroke="#000" stroke-width="3.6" stroke-linecap="butt"/>
<path d="M1777.5,425.4 A75.9,75.9 0 0 1 1760.8,376.9" fill="none" stroke="#000" stroke-width="1.2"/>
<line x1="1835.9" y1="376.9" x2="1777.5" y2="425.4" stroke="#000" stroke-width="3.6" stroke-linecap="butt"/>
<polyline points="1923.6,406.9 1959.2,376.9 1994.5,406.9 2030.1,376.9" fill="none" stroke="#000" stroke-width="1.1" />
<g style="filter:grayscale(1)"><text class="t" x="673.71" y="290.0" font-size="32" textLength="140.59" lengthAdjust="spacingAndGlyphs">KITCHEN/</text>
<text class="t" x="608.28" y="327.0" font-size="32" textLength="274.43" lengthAdjust="spacingAndGlyphs">BREAKFAST ROOM</text>
<text class="t" x="654.49" y="364.0" font-size="32" textLength="182.22" lengthAdjust="spacing">15'5" x 15'3"</text>
<text class="t" x="638.50" y="401.0" font-size="32" textLength="215.19" lengthAdjust="spacing">4.70m x 4.64m</text>
<text class="t" x="520.71" y="1101.0" font-size="32" textLength="124.78" lengthAdjust="spacingAndGlyphs">GARAGE</text>
<text class="t" x="491.09" y="1138.0" font-size="32" textLength="182.22" lengthAdjust="spacing">19'5" x 7'10"</text>
<text class="t" x="475.69" y="1175.0" font-size="32" textLength="216.41" lengthAdjust="spacing">5.92m x 2.39m</text>
<text class="t" x="782.51" y="1325.0" font-size="32" textLength="75.99" lengthAdjust="spacingAndGlyphs">HALL</text>
<text class="t" x="740.55" y="1283.0" font-size="18.4" textLength="23.33" lengthAdjust="spacingAndGlyphs">UP</text>
<text class="t" x="979.50" y="857.0" font-size="32" textLength="203.40" lengthAdjust="spacingAndGlyphs">DINING AREA/</text>
<text class="t" x="975.89" y="895.0" font-size="32" textLength="214.43" lengthAdjust="spacingAndGlyphs">SITTING ROOM</text>
<text class="t" x="992.31" y="931.0" font-size="32" textLength="180.79" lengthAdjust="spacing">32'0" x 11'6"</text>
<text class="t" x="974.90" y="969.0" font-size="32" textLength="215.40" lengthAdjust="spacing">9.74m x 3.51m</text>
<text class="t" x="1657.06" y="623.0" font-size="32" textLength="153.07" lengthAdjust="spacingAndGlyphs">BEDROOM</text>
<text class="t" x="1660.70" y="660.0" font-size="32" textLength="145.99" lengthAdjust="spacing">7'7" x 6'5"</text>
<text class="t" x="1625.30" y="698.0" font-size="32" textLength="217.01" lengthAdjust="spacing">2.30m x 1.96m</text>
<text class="t" x="1438.27" y="1263.0" font-size="32" textLength="152.07" lengthAdjust="spacingAndGlyphs">BEDROOM</text>
<text class="t" x="1440.50" y="1300.0" font-size="32" textLength="148.00" lengthAdjust="spacing">8'7" x 7'9"</text>
<text class="t" x="1405.89" y="1337.0" font-size="32" textLength="217.81" lengthAdjust="spacing">2.61m x 2.36m</text>
<text class="t" x="1930.67" y="876.0" font-size="32" textLength="151.66" lengthAdjust="spacingAndGlyphs">BEDROOM</text>
<text class="t" x="1906.09" y="913.0" font-size="32" textLength="199.82" lengthAdjust="spacing">11'5" x 10'11"</text>
<text class="t" x="1898.90" y="951.0" font-size="32" textLength="217.01" lengthAdjust="spacing">3.49m x 3.33m</text>
<text class="t" x="1910.88" y="1230.0" font-size="32" textLength="151.64" lengthAdjust="spacingAndGlyphs">BEDROOM</text>
<text class="t" x="1894.89" y="1267.0" font-size="32" textLength="181.81" lengthAdjust="spacing">11'5" x 10'5"</text>
<text class="t" x="1879.10" y="1304.0" font-size="32" textLength="217.00" lengthAdjust="spacing">3.49m x 3.17m</text>
<text class="t" x="1753.49" y="1042.0" font-size="18.4" textLength="52.62" lengthAdjust="spacingAndGlyphs">DOWN</text>
<text class="t" x="1763.10" y="191.0" font-size="32" textLength="267.80" lengthAdjust="spacingAndGlyphs">OUTDOOR OFFICE</text>
<text class="t" x="1814.49" y="228.0" font-size="32" textLength="164.62" lengthAdjust="spacing">12'7" x 9'3"</text>
<text class="t" x="1788.09" y="265.0" font-size="32" textLength="218.62" lengthAdjust="spacing">3.83m x 2.81m</text>
<text class="b" x="1697.25" y="481.0" font-size="53" textLength="260.32" lengthAdjust="spacingAndGlyphs">Outbuilding</text>
<text class="b" x="1490.85" y="543.0" font-size="53" textLength="677.12" lengthAdjust="spacing">158 sq.ft.(14.7 sq.m)approx.</text>
<text class="b" x="713.28" y="1548.0" font-size="53" textLength="299.23" lengthAdjust="spacingAndGlyphs">Ground Floor</text>
<text class="b" x="530.67" y="1611.0" font-size="53" textLength="675.47" lengthAdjust="spacing">803 sq.ft.(74.6 sq.m)approx.</text>
<text class="b" x="1682.23" y="1548.0" font-size="53" textLength="229.31" lengthAdjust="spacingAndGlyphs">First Floor</text>
<text class="b" x="1465.47" y="1611.0" font-size="53" textLength="675.49" lengthAdjust="spacing">571 sq.ft.(53.0 sq.m)approx.</text>
<text class="b" x="721.29" y="1709.0" font-size="53" textLength="154.82" lengthAdjust="spacingAndGlyphs">TOTAL</text>
<text class="b" x="890.38" y="1709.0" font-size="53" textLength="163.23" lengthAdjust="spacingAndGlyphs">FLOOR</text>
<text class="b" x="1068.05" y="1709.0" font-size="53" textLength="148.60" lengthAdjust="spacingAndGlyphs">AREA:</text>
<text class="b" x="1230.70" y="1709.0" font-size="53" textLength="115.98" lengthAdjust="spacingAndGlyphs">1532</text>
<text class="b" x="1362.07" y="1709.0" font-size="53" textLength="275.46" lengthAdjust="spacing">sq.ft.(142.3</text>
<text class="b" x="1652.45" y="1709.0" font-size="53" textLength="311.54" lengthAdjust="spacing">sq.m)approx.</text>
<text class="b" x="596.48" y="1768.0" font-size="53" textLength="93.25" lengthAdjust="spacingAndGlyphs">This</text>
<text class="b" x="707.48" y="1768.0" font-size="53" textLength="199.68" lengthAdjust="spacingAndGlyphs">floorplan</text>
<text class="b" x="921.21" y="1768.0" font-size="53" textLength="37.58" lengthAdjust="spacingAndGlyphs">is</text>
<text class="b" x="974.08" y="1768.0" font-size="53" textLength="60.84" lengthAdjust="spacingAndGlyphs">for</text>
<text class="b" x="1050.62" y="1768.0" font-size="53" textLength="233.57" lengthAdjust="spacingAndGlyphs">illustration</text>
<text class="b" x="1297.02" y="1768.0" font-size="53" textLength="211.94" lengthAdjust="spacingAndGlyphs">purposes</text>
<text class="b" x="1523.77" y="1768.0" font-size="53" textLength="111.05" lengthAdjust="spacing">only.</text>
<text class="b" x="1650.06" y="1768.0" font-size="53" textLength="85.31" lengthAdjust="spacingAndGlyphs">The</text>
<text class="b" x="1750.06" y="1768.0" font-size="53" textLength="338.07" lengthAdjust="spacingAndGlyphs">measurements</text>
<text class="b" x="575.55" y="1827.0" font-size="53" textLength="88.16" lengthAdjust="spacingAndGlyphs">and</text>
<text class="b" x="677.18" y="1827.0" font-size="53" textLength="182.65" lengthAdjust="spacingAndGlyphs">position</text>
<text class="b" x="874.46" y="1827.0" font-size="53" textLength="44.05" lengthAdjust="spacingAndGlyphs">of</text>
<text class="b" x="936.41" y="1827.0" font-size="53" textLength="112.65" lengthAdjust="spacingAndGlyphs">each</text>
<text class="b" x="1063.69" y="1827.0" font-size="53" textLength="180.82" lengthAdjust="spacingAndGlyphs">element</text>
<text class="b" x="1261.38" y="1827.0" font-size="53" textLength="71.42" lengthAdjust="spacingAndGlyphs">are</text>
<text class="b" x="1349.06" y="1827.0" font-size="53" textLength="285.08" lengthAdjust="spacingAndGlyphs">approximate</text>
<text class="b" x="1649.74" y="1827.0" font-size="53" textLength="88.16" lengthAdjust="spacingAndGlyphs">and</text>
<text class="b" x="1750.41" y="1827.0" font-size="53" textLength="112.72" lengthAdjust="spacingAndGlyphs">must</text>
<text class="b" x="1879.62" y="1827.0" font-size="53" textLength="57.94" lengthAdjust="spacingAndGlyphs">be</text>
<text class="b" x="1954.27" y="1827.0" font-size="53" textLength="155.50" lengthAdjust="spacingAndGlyphs">viewed</text>
<text class="b" x="1233.40" y="1886.0" font-size="53" textLength="197.48" lengthAdjust="spacing">as such.</text></g>
</svg>
</body></html>
